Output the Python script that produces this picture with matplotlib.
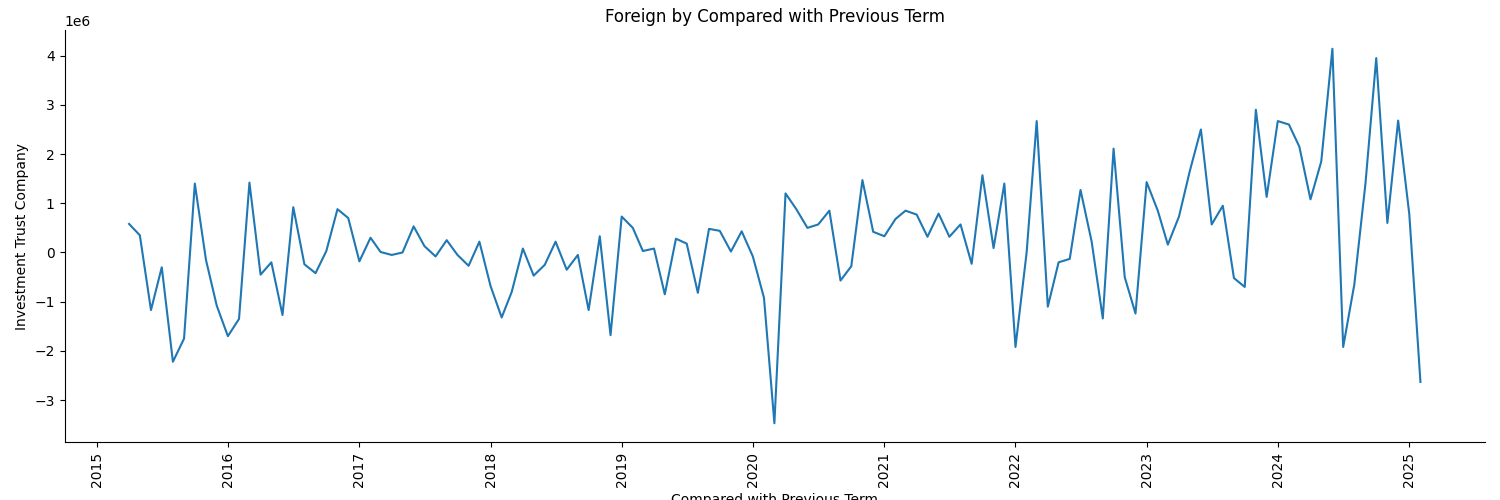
import pandas as pd
import matplotlib
matplotlib.use('Agg')
import matplotlib.pyplot as plt

# monthly values, Apr 2015 .. Feb 2025 (units of 1e6)
start_month = "2015-04-01"
values_m = [
    0.58, 0.35, -1.17, -0.30, -2.22, -1.75, 1.40, -0.15, -1.08,
    -1.70, -1.35, 1.42, -0.45, -0.20, -1.27, 0.92, -0.24, -0.42, 0.03, 0.88, 0.70,
    -0.18, 0.30, 0.01, -0.05, 0.00, 0.53, 0.13, -0.08, 0.25, -0.05, -0.27, 0.22,
    -0.68, -1.32, -0.80, 0.08, -0.47, -0.25, 0.22, -0.35, -0.05, -1.17, 0.33, -1.68,
    0.73, 0.50, 0.03, 0.08, -0.85, 0.28, 0.18, -0.82, 0.48, 0.44, 0.02, 0.43,
    -0.08, -0.92, -3.47, 1.20, 0.88, 0.50, 0.57, 0.85, -0.57, -0.28, 1.47, 0.42,
    0.33, 0.68, 0.85, 0.77, 0.32, 0.79, 0.32, 0.57, -0.23, 1.57, 0.09, 1.40,
    -1.92, 0.00, 2.67, -1.10, -0.20, -0.13, 1.27, 0.22, -1.34, 2.11, -0.50, -1.24,
    1.43, 0.85, 0.16, 0.73, 1.65, 2.50, 0.57, 0.95, -0.52, -0.70, 2.90, 1.13,
    2.67, 2.60, 2.15, 1.08, 1.85, 4.14, -1.92, -0.65, 1.40, 3.95, 0.60, 2.68,
    0.78, -2.63,
]
dates = pd.date_range(start_month, periods=len(values_m), freq="MS")
values = [v * 1e6 for v in values_m]

fig = plt.figure(figsize=(15, 5), dpi=100)
ax = fig.add_axes([0.043, 0.116, 0.947, 0.824])
ax.plot(dates, values, color='#1f77b4', linewidth=1.5)
ax.set_title("Foreign by Compared with Previous Term")
ax.set_xlabel("Compared with Previous Term")
ax.set_ylabel("Investment Trust Company")
ax.spines['top'].set_visible(False)
ax.spines['right'].set_visible(False)
plt.setp(ax.get_xticklabels(), rotation=90)

fig.savefig("out.png", dpi=100)
